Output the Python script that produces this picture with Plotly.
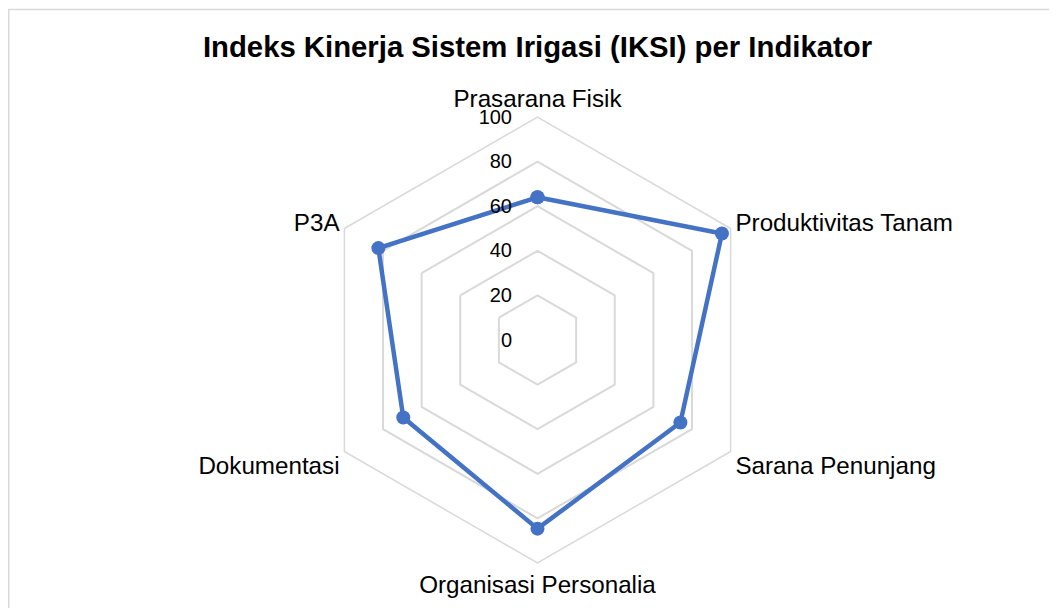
import plotly.graph_objects as go

categories = ["Prasarana Fisik", "Produktivitas Tanam", "Sarana Penunjang",
              "Organisasi Personalia", "Dokumentasi", "P3A"]
values = [64, 95.5, 74, 84.6, 69.5, 82.4]
radial_ticks = [0, 20, 40, 60, 80, 100]
title_text = "Indeks Kinerja Sistem Irigasi (IKSI) per Indikator"

# the page body has an 8px margin, so the figure is drawn 8px in from the window edge
OFF = 8
W, H = 1057 - OFF, 608 - OFF
cx, cy, R = 537.5 - OFF, 340 - OFF, 223

FONT = "Liberation Sans, Arial, sans-serif"

fig = go.Figure()
fig.add_trace(go.Scatterpolar(
    r=values + values[:1],
    theta=categories + categories[:1],
    mode="lines+markers",
    line=dict(color="#4472C4", width=4.5),
    marker=dict(color="#4472C4", size=14),
    showlegend=False,
    hoverinfo="r+theta",
))

fig.update_layout(
    width=W, height=H,
    margin=dict(l=0, r=0, t=0, b=0),
    paper_bgcolor="white",
    plot_bgcolor="white",
    font=dict(family=FONT, size=20, color="#000000"),
    title=dict(text="<b>" + title_text + "</b>", x=cx / W, xanchor="center",
               y=1 - (47 - OFF) / H, yanchor="middle",
               font=dict(size=29.3, color="#000000", family=FONT)),
    polar=dict(
        domain=dict(x=[(cx - R) / W, (cx + R) / W], y=[1 - (cy + R) / H, 1 - (cy - R) / H]),
        gridshape="linear",
        bgcolor="white",
        angularaxis=dict(
            direction="clockwise", rotation=90,
            showgrid=False, showline=True, linecolor="#d9d9d9", linewidth=1.5,
            ticks="", tickfont=dict(size=24.2, color="#000000", family=FONT),
        ),
        radialaxis=dict(
            range=[0, 100], tickvals=radial_ticks, angle=90, tickangle=90,
            showline=False, gridcolor="#d9d9d9", gridwidth=1.5,
            ticks="outside", ticklen=18, tickcolor="rgba(0,0,0,0)",
            tickfont=dict(size=20, color="#000000", family=FONT),
            side="counterclockwise",
        ),
    ),
    shapes=[dict(type="rect", xref="paper", yref="paper",
                 x0=0.75 / W, x1=1.02, y0=-0.02, y1=1 - 1.5 / H,
                 line=dict(color="#d9d9d9", width=1.5), fillcolor="rgba(0,0,0,0)",
                 layer="below")],
)

fig.write_html("out.html")
